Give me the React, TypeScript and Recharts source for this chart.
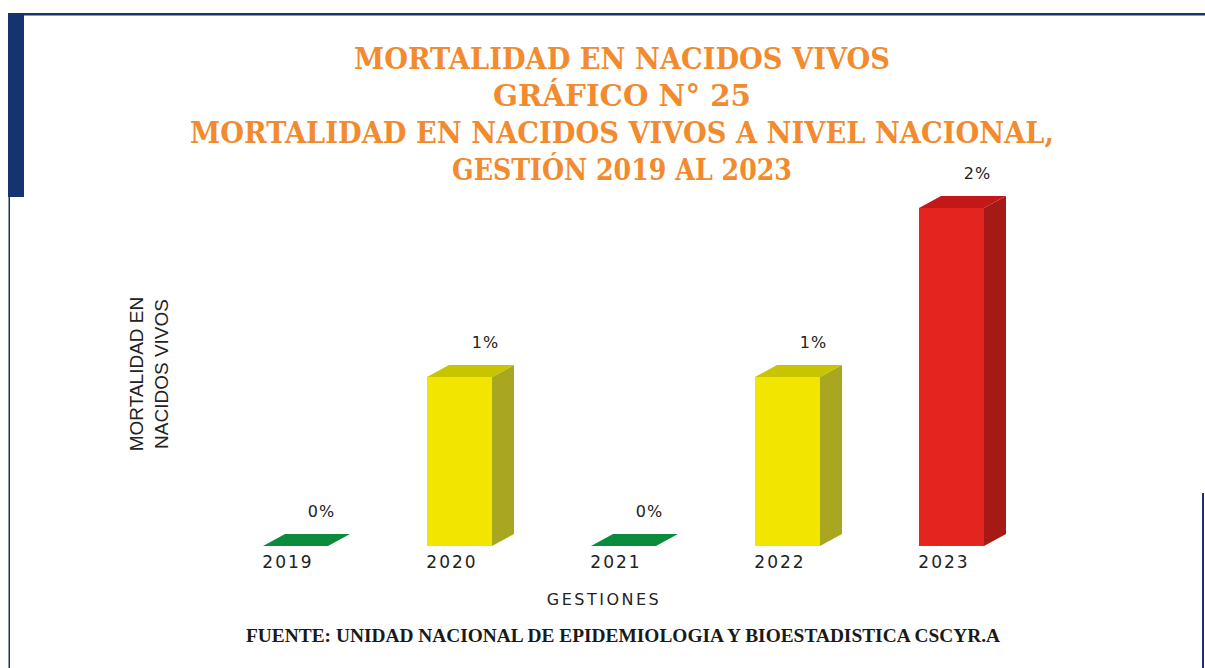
import { Bar, BarChart, LabelList, XAxis, YAxis } from 'recharts'

const years = ['2019', '2020', '2021', '2022', '2023']
const mortality = [0, 1, 0, 1, 2]
const titleLines = [
  'MORTALIDAD EN NACIDOS VIVOS',
  'GRÁFICO N° 25',
  'MORTALIDAD EN NACIDOS VIVOS A NIVEL NACIONAL,',
  'GESTIÓN 2019 AL 2023',
]

const data = years.map((year, i) => ({ year, value: mortality[i] }))

// front / side / top colours per level (semaphore style)
const palette = (v: number) => {
  if (v >= 2) return { front: '#e3241f', side: '#a51a17', top: '#c3171a' }
  if (v >= 1) return { front: '#f2e600', side: '#a9a720', top: '#c9c400' }
  return { front: '#0b8c3d', side: '#0b7a35', top: '#0b8c3d' }
}

const DX = 22
const DY = 12

function Bar3D(props: any) {
  const { x, y, width, height, payload } = props
  const c = palette(payload.value)
  const h = Math.max(0, height)
  return (
    <g>
      {h > 0 && <rect x={x} y={y} width={width} height={h} fill={c.front} />}
      {h > 0 && (
        <polygon
          points={`${x + width},${y} ${x + width + DX},${y - DY} ${x + width + DX},${y + h - DY} ${x + width},${y + h}`}
          fill={c.side}
        />
      )}
      <polygon
        points={`${x},${y} ${x + DX},${y - DY} ${x + width + DX},${y - DY} ${x + width},${y}`}
        fill={c.top}
      />
    </g>
  )
}

function ValueLabel(props: any) {
  const { x, y, width, value } = props
  return (
    <text
      x={x + width / 2 + 26}
      y={y - 29}
      textAnchor="middle"
      fontFamily="DejaVu Sans"
      fontSize={16}
      letterSpacing={1}
      fill="#222"
    >
      {value}%
    </text>
  )
}

function YearTick(props: any) {
  const { x, y, payload } = props
  return (
    <text
      x={x - 7}
      y={y}
      dy={14}
      textAnchor="middle"
      fontFamily="DejaVu Sans"
      fontSize={17}
      letterSpacing={2}
      fill="#222"
    >
      {payload.value}
    </text>
  )
}

export default function App() {
  const titleWidths = [536, 258, 864, 340]
  return (
    <div style={{ position: 'absolute', left: 0, top: 0, width: 1205, height: 668, background: '#fff' }}>
      <BarChart
        width={1205}
        height={668}
        data={data}
        margin={{ top: 208, right: 172, bottom: 92, left: 213 }}
        barSize={65}
      >
        <XAxis dataKey="year" axisLine={false} tickLine={false} height={30} tick={<YearTick />} interval={0} />
        <YAxis hide domain={[0, 2]} />
        <Bar dataKey="value" shape={<Bar3D />} isAnimationActive={false}>
          <LabelList dataKey="value" content={<ValueLabel />} />
        </Bar>
      </BarChart>
      <svg
        width={1205}
        height={668}
        style={{ position: 'absolute', left: 0, top: 0, pointerEvents: 'none' }}
      >
        <rect x={8} y={13} width={1197} height={2.5} fill="#17336f" />
        <rect x={8} y={13} width={16} height={184} fill="#17336f" />
        <rect x={8.5} y={196} width={1.5} height={472} fill="#17336f" />
        <rect x={1202} y={493} width={2} height={175} fill="#17336f" />
        {titleLines.map((t, i) => (
          <text
            key={t}
            x={622}
            y={69 + i * 37}
            textAnchor="middle"
            fontFamily="DejaVu Serif"
            fontWeight="bold"
            fontSize={29}
            fill="#f28a2e"
            textLength={titleWidths[i]}
            lengthAdjust="spacingAndGlyphs"
          >
            {t}
          </text>
        ))}
        <g transform="translate(143,374) rotate(-90)">
          <text x={0} y={0} textAnchor="middle" fontFamily="Liberation Sans" fontSize={19} fill="#222">
            MORTALIDAD EN
          </text>
          <text x={0} y={25} textAnchor="middle" fontFamily="Liberation Sans" fontSize={19} fill="#222">
            NACIDOS VIVOS
          </text>
        </g>
        <text
          x={604}
          y={605}
          textAnchor="middle"
          fontFamily="DejaVu Sans"
          fontSize={16}
          letterSpacing={2.5}
          fill="#222"
        >
          GESTIONES
        </text>
        <text
          x={246}
          y={642}
          fontFamily="Liberation Serif"
          fontWeight="bold"
          fontSize={19}
          fill="#1a1a1a"
          textLength={754}
          lengthAdjust="spacingAndGlyphs"
        >
          FUENTE: UNIDAD NACIONAL DE EPIDEMIOLOGIA Y BIOESTADISTICA CSCYR.A
        </text>
      </svg>
    </div>
  )
}
